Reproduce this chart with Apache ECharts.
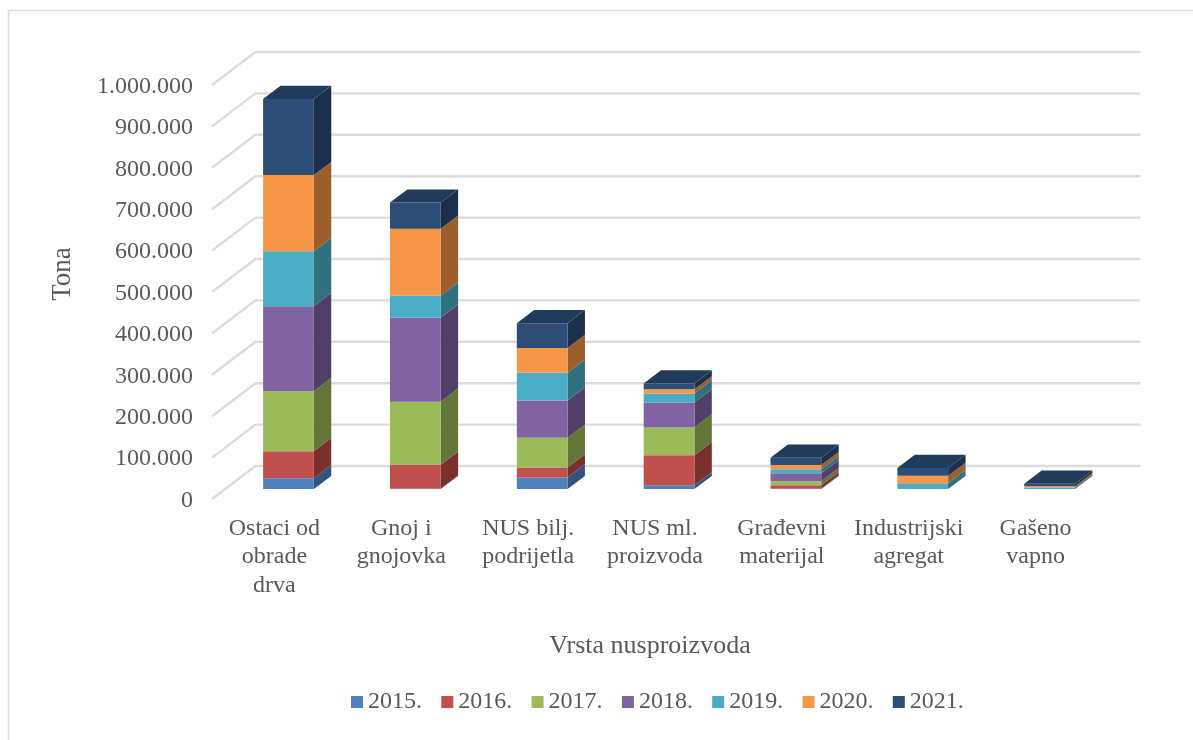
<!DOCTYPE html>
<html>
<head>
<meta charset="utf-8">
<style>html,body{margin:0;padding:0;background:#fff}#c{width:1193px;height:740px}</style>
<script src="https://cdn.jsdelivr.net/npm/echarts@6/dist/echarts.min.js"></script>
</head>
<body>
<div id="c"></div>
<script>
const categories = ['Ostaci od\nobrade\ndrva','Gnoj i\ngnojovka','NUS bilj.\npodrijetla','NUS ml.\nproizvoda','Građevni\nmaterijal','Industrijski\nagregat','Gašeno\nvapno'];
const years = ['2015.','2016.','2017.','2018.','2019.','2020.','2021.'];
const v2015 = [26500, 1000, 28000, 9000, 1000, 0, 0];
const v2016 = [65000, 58000, 24000, 73000, 8000, 0, 0];
const v2017 = [145000, 152000, 72000, 67000, 10000, 0, 0];
const v2018 = [205000, 203000, 90000, 60000, 19000, 0, 0];
const v2019 = [133000, 53000, 67000, 22000, 10000, 14000, 3000];
const v2020 = [184000, 162000, 60000, 10000, 10000, 18000, 4000];
const v2021 = [184000, 63000, 59500, 14000, 18000, 19000, 6000];
const seriesValues = [v2015, v2016, v2017, v2018, v2019, v2020, v2021];
const gridTicks = [0,100000,200000,300000,400000,500000,600000,700000,800000,900000,1000000];
const frontColors = ['#4f81bd','#c0504d','#9bbb59','#8064a2','#4bacc6','#f79646','#2c4d75'];
const sideColors = ['#33547c','#7b302e','#637537','#523f67','#2f717f','#9c5e2a','#1c304b'];
const topColor = '#203b5c';

const depthX = 43.5, depthY = 33, barFrontT = 0.3, barBackT = 0.7, barRatio = 0.4;

const baseVals = categories.map(() => 0);
const stacked = seriesValues.map(vals => vals.map((v, i) => {
  const b = baseVals[i];
  baseVals[i] += v;
  return [i, b, b + v];
}));

function renderBar(idx) {
  return function (params, api) {
    const cat = api.value(0), lo = api.value(1), hi = api.value(2);
    if (hi <= lo) return null;
    const c0 = api.coord([cat, lo]), c1 = api.coord([cat, hi]);
    const w = api.size([1, 0])[0] * barRatio;
    const fx = barFrontT * depthX, fy = barFrontT * depthY;
    const bx = (barBackT - barFrontT) * depthX, by = (barBackT - barFrontT) * depthY;
    const xl = c0[0] - w / 2 + fx, xr = xl + w, yb = c0[1] - fy, yt = c1[1] - fy;
    const children = [
      {type:'polygon', shape:{points:[[xr,yb],[xr+bx,yb-by],[xr+bx,yt-by],[xr,yt]]}, style:{fill:sideColors[idx]}},
      {type:'rect', shape:{x:xl,y:yt,width:w,height:yb-yt}, style:{fill:frontColors[idx]}}
    ];
    if (idx === seriesValues.length - 1) {
      children.push({type:'polygon', shape:{points:[[xl,yt],[xr,yt],[xr+bx,yt-by],[xl+bx,yt-by]]}, style:{fill:topColor}});
    }
    return {type:'group', children};
  };
}

function renderGridLine(params, api) {
  const y = api.coord([0, api.value(0)])[1];
  const cs = params.coordSys;
  return {type:'polyline', shape:{points:[[cs.x,y],[cs.x+depthX,y-depthY],[cs.x+cs.width+depthX-3,y-depthY]]},
    style:{fill:null, stroke:'#dcdcdc', lineWidth:2.4}};
}

const textColor = '#595959', fam = '"Liberation Serif"';
const chart = echarts.init(document.getElementById('c'), null, {renderer:'canvas'});
chart.setOption({
  animation:false,
  backgroundColor:'#fff',
  textStyle:{fontFamily:fam},
  grid:{left:212, top:85, width:888, height:414},
  graphic:[{type:'polyline', silent:true, z:-1, shape:{points:[[8.5,740],[8.5,10.5],[1193,10.5]]}, style:{fill:null, stroke:'#dcdcdc', lineWidth:1.5}}],
  legend:{
    data:years, left:346, top:685, itemWidth:12, itemHeight:12, itemGap:19.3, icon:'rect',
    textStyle:{color:textColor, fontSize:24, fontFamily:fam}
  },
  xAxis:{
    type:'category', data:categories,
    axisLine:{show:false}, axisTick:{show:false}, splitLine:{show:false},
    axisLabel:{color:textColor, fontSize:24, fontFamily:fam, margin:15, lineHeight:28.5, interval:0, padding:[0,2,0,0]},
    name:'Vrsta nusproizvoda', nameLocation:'middle', nameGap:134,
    nameTextStyle:{color:textColor, fontSize:26, fontFamily:fam, padding:[0,12,0,0]}
  },
  yAxis:{
    type:'value', min:0, max:1000000, interval:100000,
    axisLine:{show:false}, axisTick:{show:false}, splitLine:{show:false},
    axisLabel:{color:textColor, fontSize:24, fontFamily:fam, margin:19,
      formatter:v => '{a|' + String(v).replace(/\B(?=(\d{3})+$)/g,'.') + '}',
      rich:{a:{color:textColor, fontSize:24, fontFamily:fam, padding:[3,0,0,0]}}},
    name:'Tona', nameLocation:'middle', nameGap:136, nameRotate:90,
    nameTextStyle:{color:textColor, fontSize:27, fontFamily:fam, padding:[0,0,0,36]}
  },
  series:[
    {type:'custom', name:'grid', silent:true, z:1, clip:false, renderItem:renderGridLine,
      data:gridTicks.map(t=>[t]), encode:{y:0}},
    ...years.map((name,i)=>({
      type:'custom', name, z:2+i, clip:false, renderItem:renderBar(i),
      itemStyle:{color:frontColors[i]},
      data:stacked[i], encode:{x:0, y:[1,2]}
    }))
  ]
});
</script>
</body>
</html>
